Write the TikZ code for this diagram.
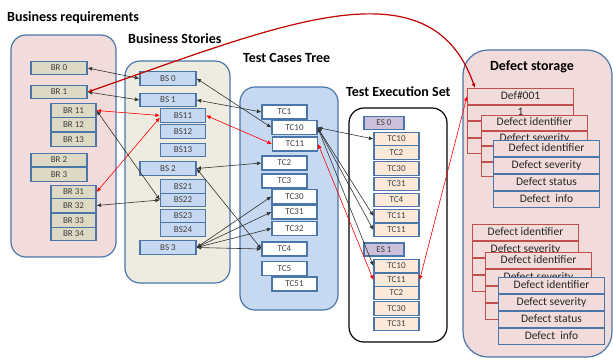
\documentclass[tikz,border=0pt]{standalone}
\usepackage{fontspec}
\setmainfont{Carlito}
\usetikzlibrary{arrows.meta,positioning}

\definecolor{frameblue}{HTML}{4A76A8}
\definecolor{reqpink}{HTML}{F2DCDB}
\definecolor{storybeige}{HTML}{EEECE1}
\definecolor{caseblue}{HTML}{C6D9F1}
\definecolor{reqtan}{HTML}{DDD9C4}
\definecolor{runpeach}{HTML}{FDE9D9}
\definecolor{setpurple}{HTML}{CCC0DA}
\definecolor{defred}{HTML}{C0504D}
\definecolor{curvered}{HTML}{C00000}
\definecolor{boxtext}{HTML}{404040}

\tikzset{
  lane/.style={draw=frameblue, line width=1.2pt, rounded corners=15pt},
  heading/.style={font=\fontsize{14}{16}\selectfont\bfseries, inner sep=0pt},
  cell/.style={draw=frameblue, line width=1.2pt, minimum height=13.5pt, inner sep=0pt,
    text=boxtext, font=\fontsize{9}{10}\selectfont, text height=6.5pt, text depth=1.5pt},
  defrow/.style={line width=1pt, fill=reqpink, minimum width=106pt, inner sep=0pt,
    text=black!85, font=\fontsize{11.5}{12}\selectfont, text height=8pt, text depth=2.5pt},
  link/.style={{Latex[length=4.5pt,width=4pt]}-{Latex[length=4.5pt,width=4pt]},
    line width=0.6pt, draw=black!80},
  redlink/.style={link, draw=red},
}

\begin{document}
\begin{tikzpicture}[x=1pt, y=-1pt] % 1 unit = 1 pixel, y downwards
  \useasboundingbox (0,0) rectangle (613,360);
  % a defect card: name, x, y, colour, row height, four rows
  \newcommand\defcard[9]{
    \node[defrow, draw=#4, minimum height=#5pt, anchor=north west] (#1-1) at (#2,#3) {#6};
    \node[defrow, draw=#4, minimum height=#5pt, below=0pt of #1-1] (#1-2) {#7};
    \node[defrow, draw=#4, minimum height=#5pt, below=0pt of #1-2] (#1-3) {#8};
    \node[defrow, draw=#4, minimum height=#5pt, below=0pt of #1-3] (#1-4) {#9};
  }

  % the five areas
  \draw[lane, fill=reqpink] (11,35) rectangle (116,257);
  \draw[lane, fill=storybeige] (125,61) rectangle (230,283);
  \draw[lane, fill=caseblue] (240,87) rectangle (338,310);
  \draw[line width=1.2pt, rounded corners=15pt, fill=white] (349,108) rectangle (447,342);
  \draw[lane, rounded corners=25pt, fill=reqpink] (463,50) rectangle (612,357);

  \node[heading, anchor=west] (reqtitle) at (7,18) {Business requirements};
  \node[heading, anchor=west] (storytitle) at (128,39) {Business Stories};
  \node[heading, anchor=west] (casetitle) at (243,58) {Test Cases Tree};
  \node[heading, anchor=west] (runtitle) at (346,92) {Test Execution Set};
  \node[heading] (deftitle) at (532,67) {Defect storage};

  % business requirements
  \foreach \n/\t/\x/\y/\w in {br0/BR 0/59/68/56, br1/BR 1/59/92/56,
      br11/BR 11/73.5/110.5/45, br12/BR 12/73.5/124.5/45, br13/BR 13/73.5/139.5/45,
      br2/BR 2/59/160/56, br3/BR 3/59/174.5/56,
      br31/BR 31/73.5/192/45, br32/BR 32/73.5/205.5/45,
      br33/BR 33/73.5/220.5/45, br34/BR 34/73.5/234/45}
    \node[cell, fill=reqtan, minimum width=\w pt] (\n) at (\x,\y) {\t};

  % business stories
  \foreach \n/\t/\x/\y/\w in {bs0/BS 0/168/78.5/56, bs1/BS 1/168/100/56,
      bs11/BS11/183/115.5/45, bs12/BS12/183/131.5/45, bs13/BS13/183/150/45,
      bs2/BS 2/168/168.5/56,
      bs21/BS21/183/186.5/45, bs22/BS22/183/200/45,
      bs23/BS23/183/216/45, bs24/BS24/183/229.5/45,
      bs3/BS 3/168/247.5/56}
    \node[cell, fill=caseblue, minimum width=\w pt] (\n) at (\x,\y) {\t};

  % test cases tree
  \foreach \n/\t/\x/\y in {tc1/TC1/284.5/112, tc10/TC10/294.5/127.5, tc11/TC11/295/144,
      tc2/TC2/284.5/163, tc3/TC3/284.5/181, tc30/TC30/294.5/196.5,
      tc31/TC31/294.5/212, tc32/TC32/294.5/228.5, tc4/TC4/284.5/249,
      tc5/TC5/284.5/268.5, tc51/TC51/294.5/284}
    \node[cell, fill=white, minimum width=45pt, minimum height=14pt] (\n) at (\x,\y) {\t};

  % test execution set
  \node[cell, fill=setpurple, minimum width=40pt, minimum height=13pt] (es0) at (384,123) {ES 0};
  \node[cell, fill=setpurple, minimum width=40pt, minimum height=13pt] (es1) at (384,249.5) {ES 1};
  \foreach \n/\t/\y in {e0tc10/TC10/139, e0tc2/TC2/152.5, e0tc30/TC30/168.5,
      e0tc31/TC31/184, e0tc4/TC4/200, e0tc11a/TC11/216, e0tc11b/TC11/230,
      e1tc10/TC10/266, e1tc11/TC11/280, e1tc2/TC2/293,
      e1tc30/TC30/308.5, e1tc31/TC31/324}
    \node[cell, fill=runpeach, minimum width=45pt] (\n) at (396.5,\y) {\t};

  % defect storage
  \defcard{da1}{467}{88}{defred}{15.5}{Def\#001}{1}{}{}
  \defcard{da2}{481}{115}{defred}{14.5}{Defect identifier}{Defect severity}{}{}
  \defcard{da3}{493}{140}{frameblue}{16}{Defect identifier}{Defect severity}{Defect status}{Defect\ \ info}
  \defcard{db1}{472}{224}{defred}{16}{Defect identifier}{Defect severity}{}{}
  \defcard{db2}{485}{252}{defred}{16}{Defect identifier}{Defect severity}{}{}
  \defcard{db3}{498}{277}{frameblue}{16}{Defect identifier}{Defect severity}{Defect status}{Defect\ \ info}

  % links
  \draw[link] (br0.east) -- (bs0.west);
  \draw[link] (br1.east) -- (bs1.west);
  \draw[link] (br11.east) -- (bs22.west);
  \draw[link] (br32.east) -- (bs22.west);
  \draw[redlink] (br11.east) -- (bs11.west);
  \draw[redlink] (br31.east) -- ([yshift=-2pt]bs11.west);
  \draw[link] (bs0.east) -- (tc10.west);
  \draw[link] (bs1.east) -- (tc1.west);
  \draw[redlink] (bs11.east) -- (tc11.west);
  \draw[link] (bs2.east) -- (tc2.west);
  \draw[link] (bs2.east) -- (tc4.west);
  \foreach \t in {tc30, tc31, tc32, tc4}
    \draw[link] (bs3.east) -- (\t.west);
  \draw[link] (tc10.east) -- (e0tc10.west);
  \foreach \t in {e0tc11a, e0tc11b, e1tc10}
    \draw[link] (tc10.east) -- (\t.west);
  \draw[redlink] (tc11.east) -- (e1tc11.west);
  \draw[redlink] (e1tc11.east) -- (da1-1.west);
  \draw[redlink, draw=curvered, line width=1.2pt]
    (br1.east) .. controls (280,25) and (430,-40) .. ([xshift=8pt]da1-1.north west);
\end{tikzpicture}
\end{document}
